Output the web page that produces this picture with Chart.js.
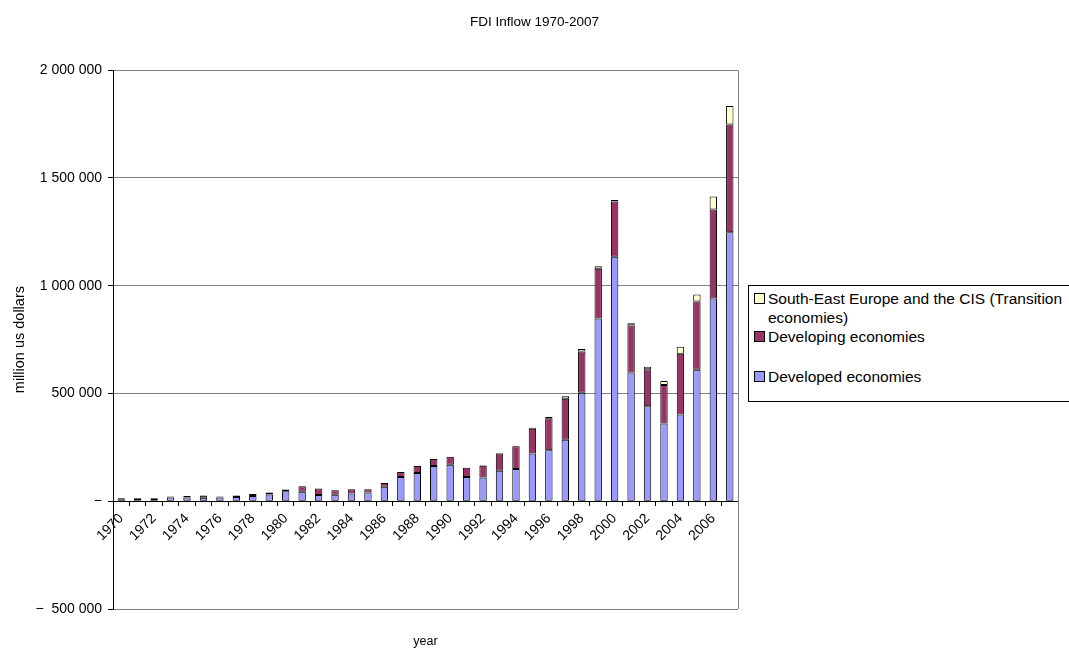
<!DOCTYPE html>
<html>
<head>
<meta charset="utf-8">
<title>FDI Inflow 1970-2007</title>
<script src="https://cdn.jsdelivr.net/npm/chart.js@4.4.1/dist/chart.umd.min.js"></script>
<style>
  html, body { margin: 0; padding: 0; background: #fff; overflow: hidden; }
  #wrap { position: relative; width: 1069px; height: 650px; }
  #fdi { position: absolute; left: 0; top: 0; }
  #legend {
    position: absolute; left: 748px; top: 285px; width: 340px; height: 117px;
    border: 1px solid #000; box-sizing: border-box; background: #fff;
    font: 15.5px "Liberation Sans", Arial, sans-serif; color: #000;
  }
  .item { position: absolute; left: 5px; width: 330px; line-height: 19px; }
  .swatch {
    position: absolute; left: 0; top: 4px; width: 9px; height: 9px;
    border: 1px solid #000;
  }
  .txt { position: absolute; left: 14px; top: 0; width: 305px; }
</style>
</head>
<body>
<div id="wrap">
  <canvas id="fdi" width="1069" height="650"></canvas>
  <div id="legend"></div>
</div>
<script>
// Inward FDI flows by group of economies, million US dollars
const years = [
  '1970','1971','1972','1973','1974','1975','1976','1977','1978','1979',
  '1980','1981','1982','1983','1984','1985','1986','1987','1988','1989',
  '1990','1991','1992','1993','1994','1995','1996','1997','1998','1999',
  '2000','2001','2002','2003','2004','2005','2006','2007'
];

const developed = [
  9500, 10700, 11000, 17000, 17500, 16000, 17000, 20000, 24500, 31000,
  46500, 44000, 29500, 30000, 36000, 40000, 67000, 113000, 131000, 163000,
  169000, 113000, 110000, 141000, 150000, 221000, 237000, 285000, 503000, 848000,
  1134000, 597000, 441000, 361000, 403000, 610000, 941000, 1248000
];

const developing = [
  3850, 3700, 4000, 4500, 6500, 10500, 4500, 7000, 9000, 9500,
  7500, 25500, 29500, 20500, 19500, 15500, 17500, 23000, 32000, 33000,
  38000, 42000, 55000, 80000, 105000, 115000, 148000, 190000, 192000, 231000,
  257000, 218000, 171000, 178000, 281000, 317000, 413000, 500000
];

const transition = [
  0, 0, 0, 0, 0, 0, 0, 0, 0, 0,
  0, 0, 0, 0, 0, 0, 0, 0, 0, 0,
  0, 0, 1500, 3000, 2500, 5000, 5500, 12000, 11000, 11000,
  7000, 11000, 12000, 19000, 33000, 32000, 60000, 86000
];

const seriesNames = [
  'Developed economies',
  'Developing economies',
  'South-East Europe and the CIS (Transition economies)'
];
const seriesColors = ['#9999FF', '#993366', '#FFFFCC'];

const yTickValues = [-500000, 0, 500000, 1000000, 1500000, 2000000];

const FONT = '"Liberation Sans", Arial, sans-serif';
const FIG = '\u2007';

function groupDigits(n) {
  return String(n).replace(/\B(?=(\d{3})+(?!\d))/g, ' ');
}
function valueLabel(v) {
  if (v === 0) return '\u2212';
  if (v < 0) return '\u2212' + FIG + groupDigits(-v);
  return groupDigits(v);
}

// right edge of the plot frame
const frameRight = {
  id: 'frameRight',
  beforeDatasetsDraw(chart) {
    const a = chart.chartArea, c = chart.ctx;
    c.save();
    c.strokeStyle = '#808080';
    c.lineWidth = 1;
    c.beginPath();
    c.moveTo(Math.round(a.right) + 0.5, a.top);
    c.lineTo(Math.round(a.right) + 0.5, a.bottom);
    c.stroke();
    c.restore();
  }
};

const seriesData = [developed, developing, transition];
const datasets = seriesData.map((d, i) => ({
  label: seriesNames[i],
  data: d,
  backgroundColor: seriesColors[i],
  borderColor: '#000',
  borderWidth: 1,
  borderSkipped: false,
  categoryPercentage: 1,
  barPercentage: 0.45
}));

const chart = new Chart(document.getElementById('fdi'), {
  type: 'bar',
  data: { labels: years, datasets },
  plugins: [frameRight],
  options: {
    responsive: false,
    devicePixelRatio: 1,
    animation: false,
    layout: { padding: 0 },
    plugins: {
      legend: { display: false },
      tooltip: { enabled: false },
      title: {
        display: true,
        text: 'FDI Inflow 1970-2007',
        color: '#000',
        font: { family: FONT, size: 13.5, weight: 'normal' },
        padding: { top: 14, bottom: 40 }
      }
    },
    scales: {
      x: {
        stacked: true,
        position: { y: 0 },
        grid: { drawOnChartArea: false, offset: true, tickLength: 4, tickColor: '#000' },
        border: { color: '#000', width: 1 },
        ticks: {
          autoSkip: false, minRotation: 45, maxRotation: 45, padding: 5,
          color: '#000', font: { family: FONT, size: 14 },
          callback: (v, i) => (i % 2 === 0 ? years[i] : '')
        }
      },
      x2: {
        type: 'category',
        position: 'bottom',
        grid: { display: false },
        border: { display: false },
        ticks: { display: false },
        title: {
          display: true, text: 'year', color: '#000',
          font: { family: FONT, size: 12.5 },
          padding: { top: 17, bottom: 1 }
        }
      },
      y: {
        stacked: true,
        min: yTickValues[0],
        max: yTickValues[yTickValues.length - 1],
        afterFit: s => { s.width = 113; },
        afterBuildTicks: s => { s.ticks = yTickValues.map(v => ({ value: v })); },
        grid: {
          color: ctx => (ctx.tick && ctx.tick.value === 0 ? '#000' : '#808080'),
          tickColor: '#000', tickLength: 5
        },
        border: { color: '#000', width: 1 },
        ticks: {
          color: '#000', padding: 6,
          font: { family: FONT, size: 14 },
          callback: v => valueLabel(v)
        },
        title: {
          display: true, text: 'million us dollars', color: '#000',
          font: { family: FONT, size: 14.5 },
          padding: { top: 11, bottom: 0 }
        }
      },
      // empty strip on the right that holds the legend
      side: {
        type: 'linear',
        position: 'right',
        afterFit: s => { s.width = 331; },
        grid: { display: false },
        border: { display: false },
        ticks: { display: false }
      }
    }
  }
});

// legend box, entries listed top series first
const legendEl = document.getElementById('legend');
const itemTops = [3, 41, 81];
[2, 1, 0].forEach((si, k) => {
  const item = document.createElement('div');
  item.className = 'item';
  item.style.top = itemTops[k] + 'px';
  const sw = document.createElement('span');
  sw.className = 'swatch';
  sw.style.background = chart.data.datasets[si].backgroundColor;
  const tx = document.createElement('span');
  tx.className = 'txt';
  tx.textContent = chart.data.datasets[si].label;
  item.appendChild(sw);
  item.appendChild(tx);
  legendEl.appendChild(item);
});
</script>
</body>
</html>
